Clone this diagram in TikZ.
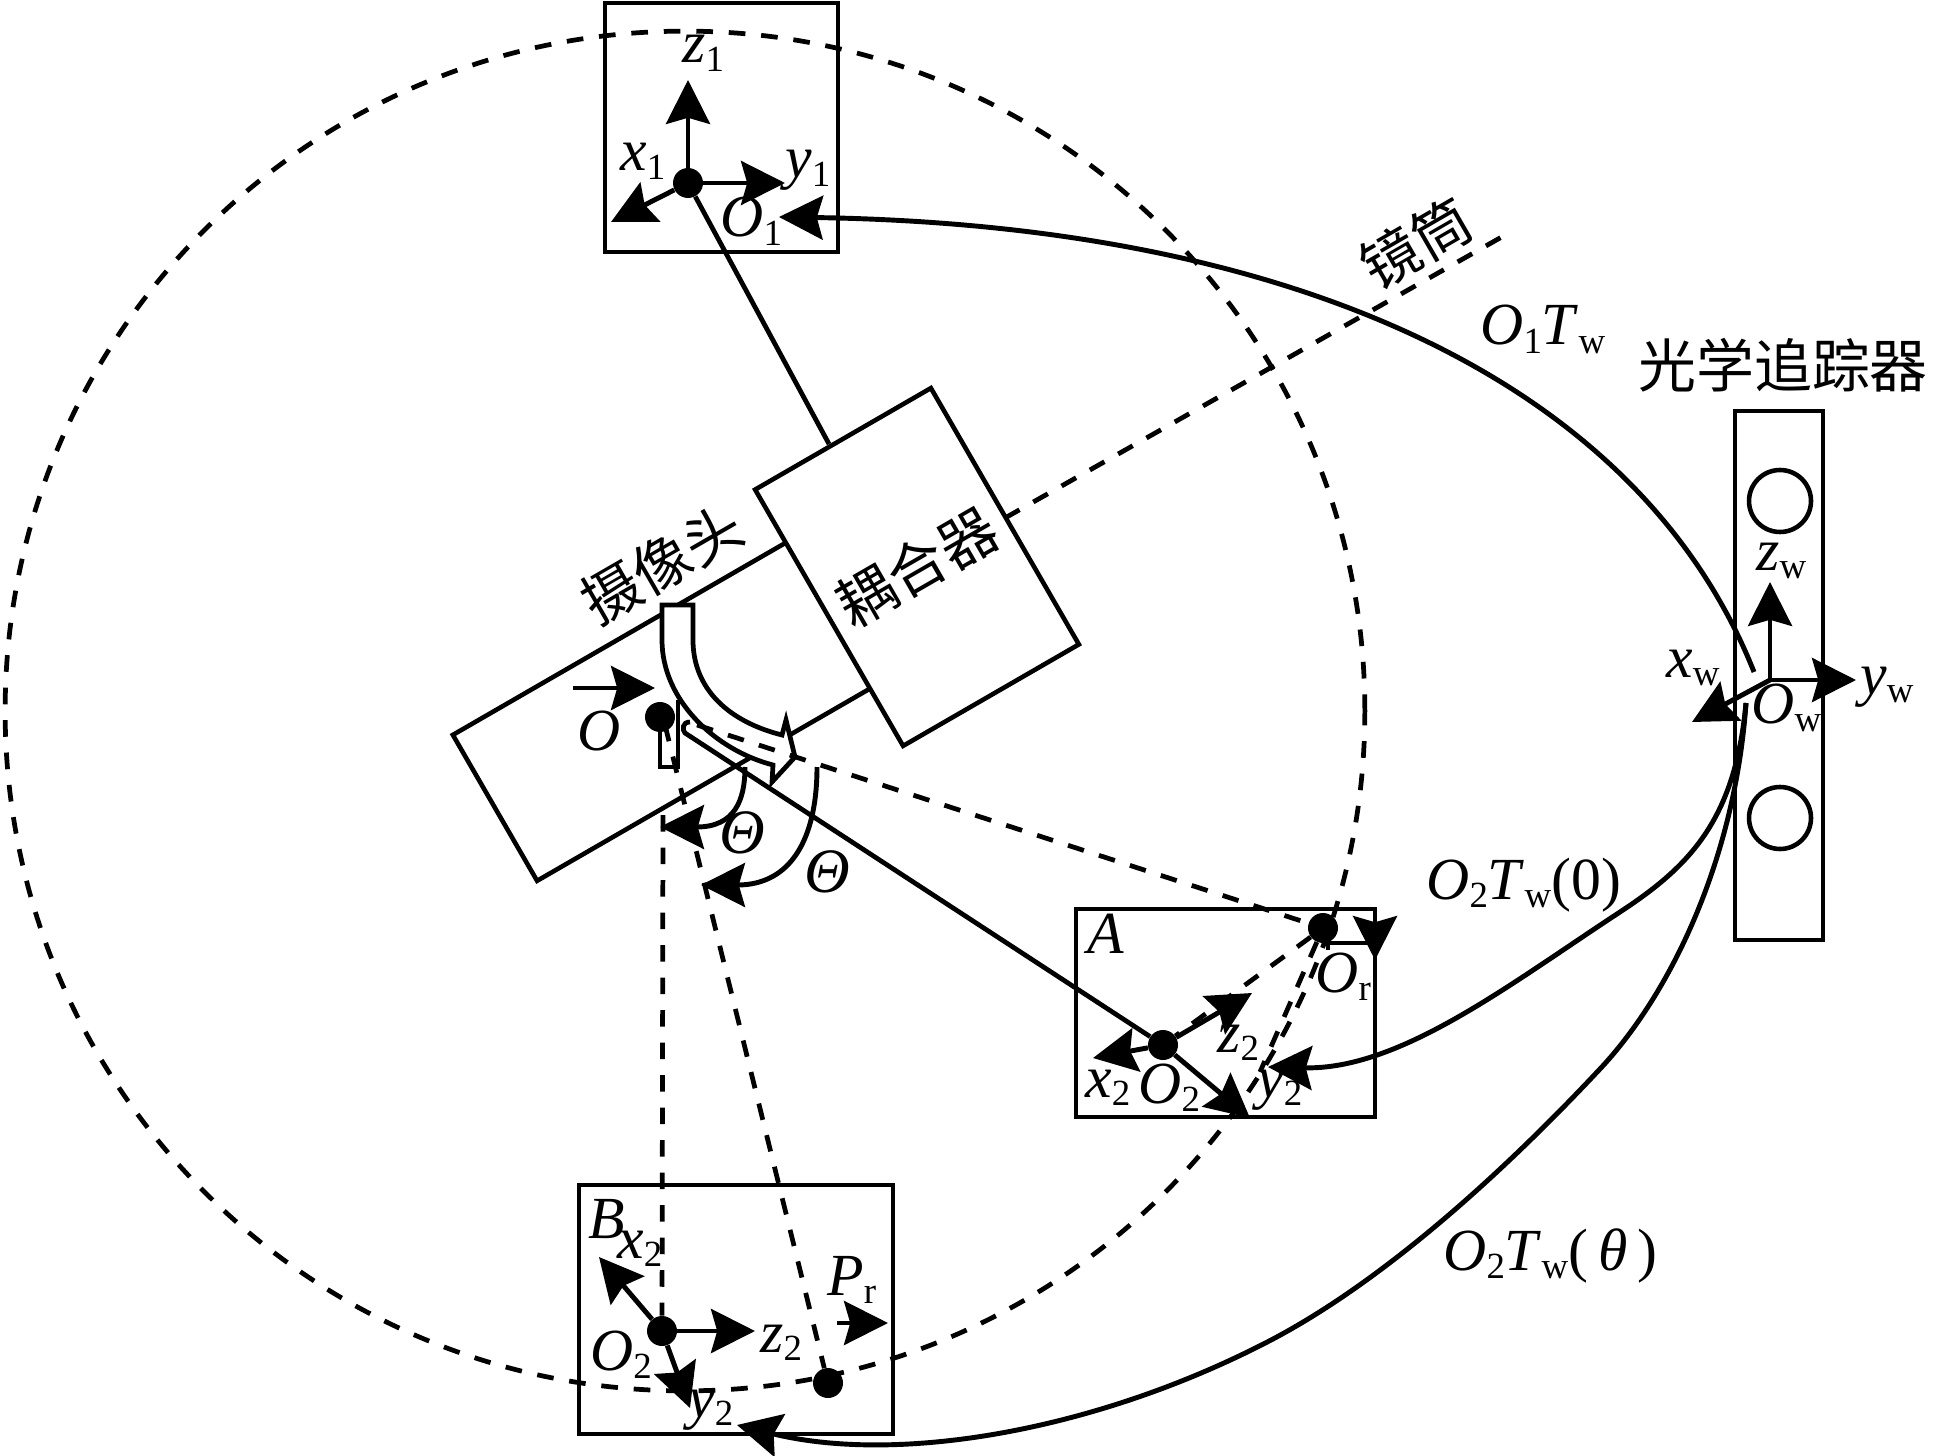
\documentclass[tikz,border=0pt]{standalone}
\usepackage{fontspec}
\setmainfont{Liberation Serif}
\newfontfamily\cjk{Noto Sans CJK SC}
\usetikzlibrary{positioning,arrows.meta,calc}
\newcommand{\lab}[2]{\textit{#1}\raisebox{-5pt}{\fontsize{21}{21}\selectfont #2}}

\begin{document}
\begin{tikzpicture}[
    x=0.02cm, y=-0.02cm,
    box/.style={draw, rectangle, line width=2.6pt, inner sep=0pt, fill=white},
    dot/.style={circle, fill=black, minimum size=0.6cm, inner sep=0pt},
    ring/.style={draw, circle, line width=2.6pt, minimum size=1.24cm, inner sep=0pt},
    axis/.style={-{Stealth[length=25pt,width=25pt,inset=3.5pt]}, line width=2.8pt},
    line/.style={line width=2.7pt},
    dashline/.style={line width=2.7pt, dash pattern=on 9.5pt off 9pt},
    lab/.style={anchor=base west, inner sep=0pt, font=\fontsize{34}{38}\selectfont},
    hanzi/.style={font=\fontsize{33}{36}\selectfont\cjk, inner sep=0pt}
  ]
    \useasboundingbox (0,0) rectangle (1934,1456);

    % boxes
    \node[box, minimum width=4.66cm, minimum height=4.98cm] (topbox) at (721.5,127.5) {};
    \node[box, minimum width=5.98cm, minimum height=4.16cm] (boxa) at (1225.5,1013) {};
    \node[box, minimum width=6.28cm, minimum height=4.98cm] (boxb) at (736,1309.5) {};
    \node[box, minimum width=1.76cm, minimum height=10.58cm] (tracker) at (1779,675.5) {};
    \node[ring] (ringup) at (1780,501) {};
    \node[ring] (ringdown) at (1780,818) {};

    % dashed circle
    \node[draw, circle, dashline, minimum size=27.2cm, inner sep=0pt] (sweep) at (685,711) {};

    % camera and coupler
    \node[box, rotate=30, minimum width=8.6cm, minimum height=3.37cm, anchor=west] (camera) at (493,809) {};
    \coordinate (scopeend) at (1507,234);
    \coordinate (couplertop) at (829,444);
    \node[dot] (o1) at (688,183) {};
    \draw[line] (o1) -- (couplertop);
    \draw[dashline] (1005,518) -- (scopeend);
    \node[box, rotate=30, minimum width=4.06cm, minimum height=5.92cm,
      font=\fontsize{33}{36}\selectfont\cjk] (coupler) at (917,567) {耦合器};

    % white bent arrow
    \draw[line, fill=white] (662,605) -- (662,640) .. controls (662,700) and (715,750) .. (773,765)
      -- (772,782) -- (795,757) -- (786,720) -- (782,735)
      .. controls (730,722) and (693,690) .. (693,640) -- (693,605) -- cycle;

    % rays from the lens
    \coordinate (hookend) at (685,733);
    \coordinate (raystart) at (697,725);
    \coordinate (slantstart) at (665,725);
    \coordinate (vertstart) at (663,815);
    \coordinate (ryend) at (1260,1072);
    \node[dot] (o) at (660,717) {};
    \node[dot] (or) at (1323,928) {};
    \node[dot] (o2a) at (1163,1045) {};
    \node[dot] (o2b) at (662,1331) {};
    \node[dot] (pr) at (828,1383) {};
    \draw[line] (o) -- (660,767) -- (678,767) -- (678,700);
    \draw[dashline] (raystart) -- (or);
    \draw[dashline] (slantstart) -- (pr);
    \draw[dashline] (vertstart) -- (o2b);
    \draw[dashline] (or) -- (o2a);
    \draw[dashline] (or) -- (ryend);
    \draw[line] (690,722) .. controls (682,722) and (682,730) .. (hookend) -- (o2a);

    % frames
    \draw[axis] (o1) -- (688,80);
    \draw[axis] (o1) -- (611,222);
    \draw[axis] (o1) -- (785,183);
    \draw[axis] (573,688) -- (655,688);
    \draw[axis] (745,767) .. controls (745,800) and (735,827) .. (660,827);
    \draw[axis] (817,767) .. controls (817,840) and (790,885) .. (701,885);
    \draw[axis] (o2a) -- (1252,993);
    \draw[axis] (o2a) -- (1093,1058);
    \draw[axis] (o2a) -- (1250,1118);
    \draw[axis] (1328,950) -- (1328,943) -- (1375,943) -- (1375,960);
    \draw[axis] (o2b) -- (599,1257);
    \draw[axis] (o2b) -- (755,1331);
    \draw[axis] (o2b) -- (690,1408);
    \draw[axis] (837,1323) -- (888,1323);
    \coordinate (ow) at (1770,680);
    \draw[axis] (ow) -- (1770,582);
    \draw[axis] (ow) -- (1856,680);
    \draw[axis] (ow) -- (1692,722);

    % tracker links
    \draw[axis] (1754,672) .. controls (1640,385) and (1300,225) .. (779,217);
    \draw[axis] (1746,703) .. controls (1735,820) and (1690,866) .. (1620,912)
      .. controls (1510,984) and (1400,1070) .. (1268,1067);
    \draw[axis] (1746,703) .. controls (1735,860) and (1670,995) .. (1599,1070)
      .. controls (1510,1165) and (1390,1277) .. (1273,1339)
      .. controls (1100,1430) and (900,1465) .. (737,1425);

    % labels
    \node[lab] (z1) at (682,63) {\lab{z}{1}};
    \node[lab] (x1) at (620,171) {\lab{x}{1}};
    \node[lab] (y1) at (785,178) {\lab{y}{1}};
    \node[lab] (o1l) at (720,237) {\lab{O}{1}};
    \node[lab] (ol) at (577,750) {\textit{O}};
    \node[lab, anchor=center, font=\fontsize{36}{38}\selectfont] (th1) at (742,833) {\textit{Θ}};
    \node[lab, anchor=center, font=\fontsize{36}{38}\selectfont] (th2) at (827,872) {\textit{Θ}};
    \node[lab] (al) at (1087,953) {\textit{A}};
    \node[lab] (orl) at (1315,992) {\lab{O}{r}};
    \node[lab] (z2a) at (1217,1052) {\lab{z}{2}};
    \node[lab] (x2a) at (1085,1097) {\lab{x}{2}};
    \node[lab] (o2al) at (1138,1103) {\lab{O}{2}};
    \node[lab] (y2a) at (1257,1097) {\lab{y}{2}};
    \node[lab] (bl) at (588,1238) {\textit{B}};
    \node[lab] (x2b) at (617,1258) {\lab{x}{2}};
    \node[lab] (o2bl) at (590,1370) {\lab{O}{2}};
    \node[lab] (z2b) at (760,1352) {\lab{z}{2}};
    \node[lab] (y2b) at (688,1417) {\lab{y}{2}};
    \node[lab] (prl) at (827,1295) {\lab{P}{r}};
    \node[lab] (zw) at (1756,570) {\lab{z}{w}};
    \node[lab] (xw) at (1666,677) {\lab{x}{w}};
    \node[lab] (yw) at (1860,694) {\lab{y}{w}};
    \node[lab] (owl) at (1751,723) {\lab{O}{w}};
    \node[lab] (t1) at (1480,345) {\lab{O}{1}\lab{T}{w}};
    \node[lab] (t2) at (1426,899) {\lab{O}{2}\lab{T}{w}(0)};
    \node[lab] (t3) at (1443,1270) {\lab{O}{2}\lab{T}{w}(\,\textit{θ}\,)};
    \node[hanzi] (tube) at (1416,243) [rotate=30] {镜筒};
    \node[hanzi] (tracktext) at (1783,365) {光学追踪器};
    \node[hanzi] (camtext) at (662,564) [rotate=30] {摄像头};
  \end{tikzpicture}
\end{document}
